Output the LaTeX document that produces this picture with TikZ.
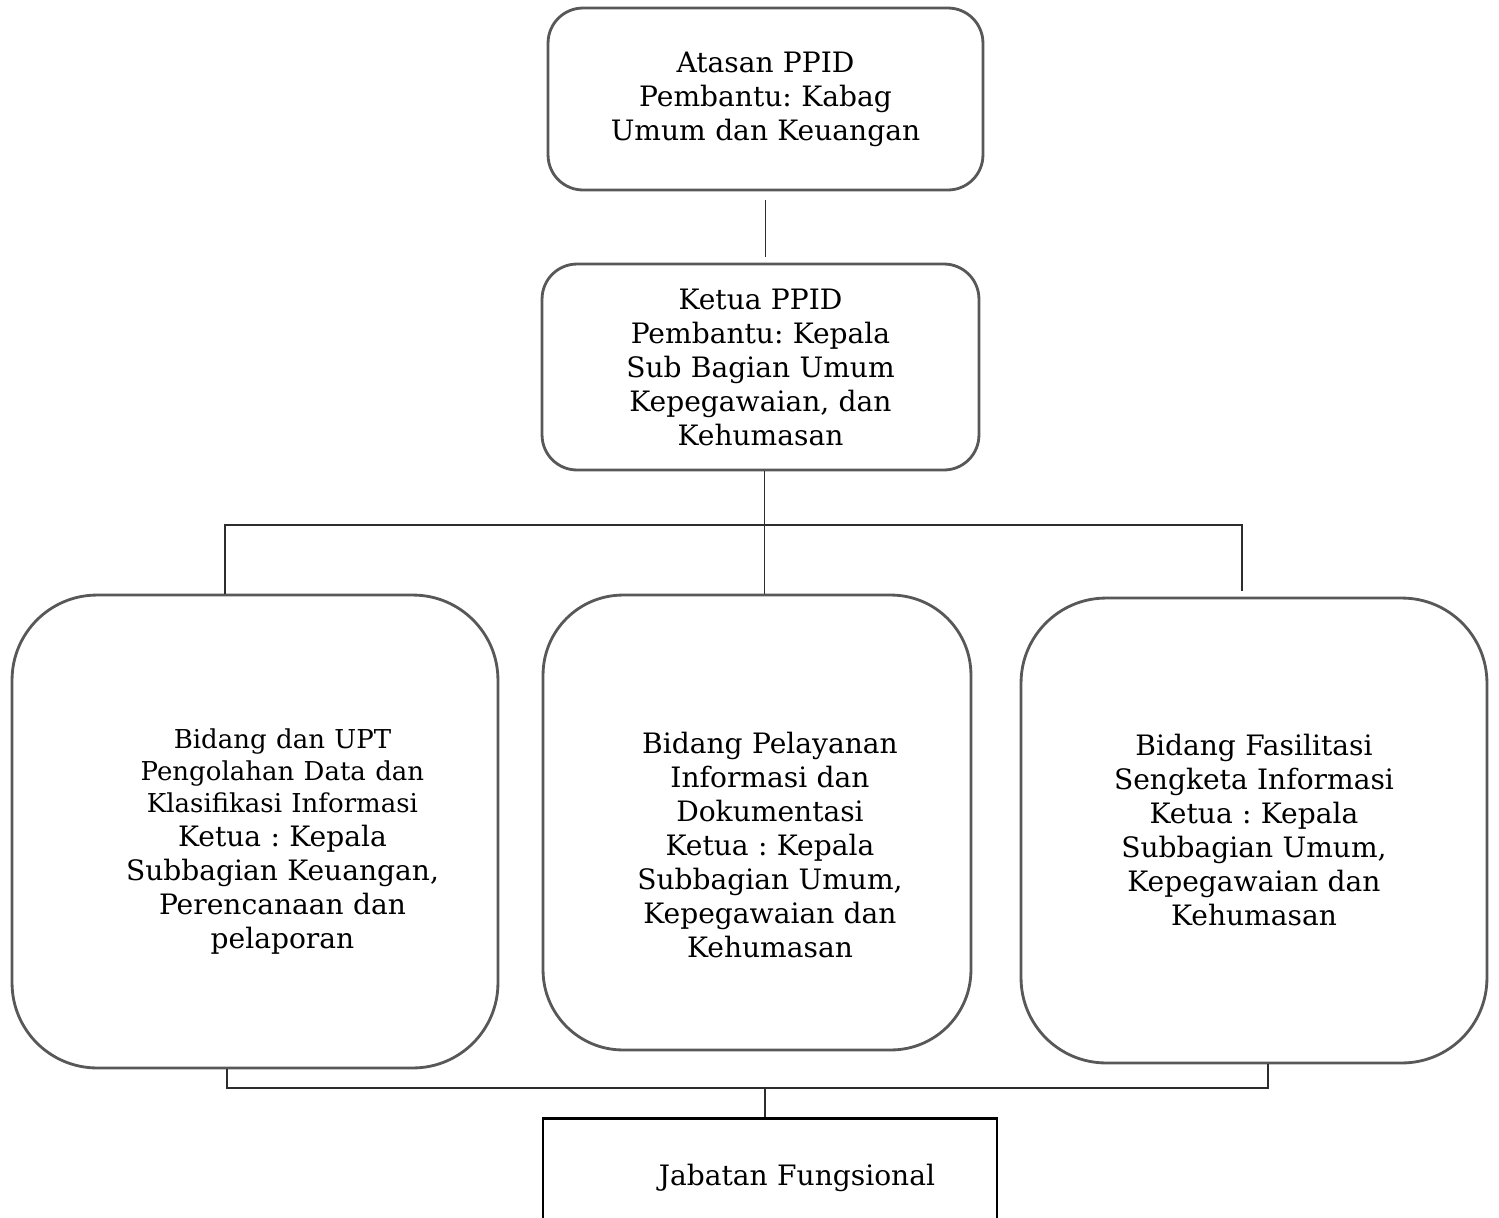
\documentclass[tikz,border=0pt]{standalone}
\usepackage{fontspec}
\setmainfont{DejaVu Serif}
\usetikzlibrary{calc}
\definecolor{boxgray}{RGB}{88,88,88}
\definecolor{linegray}{RGB}{45,45,45}
\newcommand{\smalllines}{\fontsize{14.8}{18.2}\selectfont}
\newcommand{\shiftright}[1]{\leftskip=#1 plus 1fil\rightskip=0pt plus 1fil\parfillskip=0pt}
\frenchspacing

\begin{document}
\begin{tikzpicture}[x=0.02cm,y=-0.02cm,
	box/.style={shape=rectangle,draw=boxgray,line width=1.6pt,rounded corners=0.7cm,text width=7.6cm,align=center,font=\fontsize{16}{19.35}\selectfont},
	bigbox/.style={box,rounded corners=1.7cm},
	plainbox/.style={box,draw=black,rounded corners=0pt},
	link/.style={draw=linegray,line width=0.8pt}]
\clip (0,0) rectangle (1499,1218);
\draw (765.5,99) node (atasan) [box,minimum width=8.7cm,minimum height=3.64cm] {Atasan PPID\\Pembantu: Kabag\\Umum dan Keuangan};
\draw (760.5,367) node (ketua) [box,minimum width=8.74cm,minimum height=4.12cm] {Ketua PPID\\Pembantu: Kepala\\Sub Bagian Umum\\Kepegawaian, dan\\Kehumasan};
\draw (255,831.5) node (pengolahan) [bigbox,text width=8cm,minimum width=9.72cm,minimum height=9.46cm] {\shiftright{1.1cm}{\smalllines\rule{0pt}{0.78cm}Bidang dan UPT\\Pengolahan Data dan\\Klasifikasi Informasi\par}Ketua : Kepala\\Subbagian Keuangan,\\Perencanaan dan\\pelaporan\par};
\draw (757,822.5) node (pelayanan) [bigbox,rounded corners=1.6cm,minimum width=8.56cm,minimum height=9.1cm] {\shiftright{0.52cm}\rule{0pt}{1.34cm}Bidang Pelayanan\\Informasi dan\\Dokumentasi\\Ketua : Kepala\\Subbagian Umum,\\Kepegawaian dan\\Kehumasan\par};
\draw (1254,830.5) node (fasilitasi) [bigbox,minimum width=9.32cm,minimum height=9.3cm] {Bidang Fasilitasi\\Sengketa Informasi\\Ketua : Kepala\\Subbagian Umum,\\Kepegawaian dan\\Kehumasan};
\draw (770,1117) node (jabatan) [plainbox,anchor=north,minimum width=9.08cm,minimum height=2.4cm] {\shiftright{1.08cm}Jabatan Fungsional\par};
\coordinate (busL) at (225,525);
\coordinate (busR) at (1242,525);
\coordinate (baseL) at (227,1088);
\coordinate (baseR) at (1268,1088);
\draw[link,shorten <=5pt,shorten >=3pt] (atasan.south) -- (atasan.south |- ketua.north);
\draw[link] ($(ketua.south)+(4,0)$) -- ($(ketua.south |- pelayanan.north)+(4,0)$);
\draw[link] (busL |- pengolahan.north) -- (busL) -- (busR) -- ($(busR |- fasilitasi.north)+(0,-6)$);
\draw[link] (baseL |- pengolahan.south) -- (baseL) -- (baseR) -- (baseR |- fasilitasi.south);
\draw[link] ($(jabatan.north)+(-5,0)$) -- ($(jabatan.north |- baseL)+(-5,0)$);
\end{tikzpicture}
\end{document}
